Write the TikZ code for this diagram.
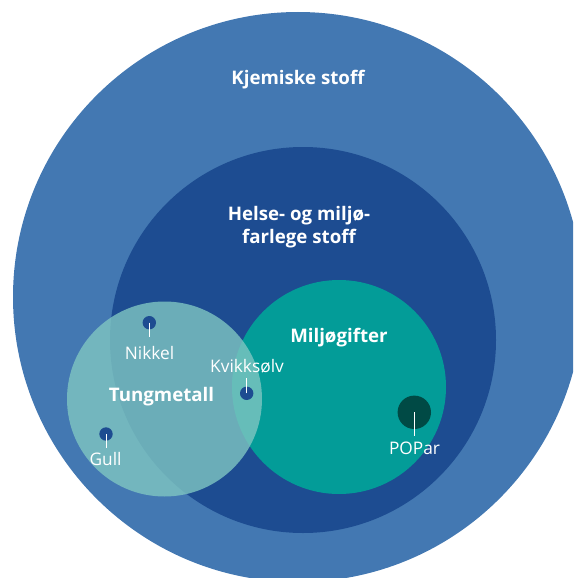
\documentclass[tikz,border=0pt]{standalone}
\usepackage{fontspec}
\setmainfont{Open Sans}
\definecolor{outerblue}{RGB}{67,120,178}
\definecolor{darkblue}{RGB}{29,76,145}
\definecolor{tealc}{RGB}{3,156,152}
\definecolor{lightteal}{RGB}{127,198,194}
\definecolor{popc}{RGB}{0,74,69}
\begin{document}
\begin{tikzpicture}[x=1pt,y=-1pt,
  disc/.style={circle,inner sep=0pt,draw=none},
  bigtitle/.style={text=white,font=\fontsize{18.7}{22.5}\selectfont\bfseries,align=center,inner sep=0pt},
  smalllabel/.style={text=white,font=\fontsize{17.3}{20}\selectfont,inner sep=0pt},
  dot/.style={disc,fill=darkblue,minimum size=13.4pt},
  leader/.style={draw=white,line width=1pt}]
\useasboundingbox (0,0) rectangle (573,578);
\clip (0,0) rectangle (573,578);
\node[disc,fill=outerblue,minimum size=570pt] (kjem) at (298,297) {};
\node[disc,fill=darkblue,minimum size=386pt] (helse) at (303,340) {};
\node[disc,fill=tealc,minimum size=214pt] (miljo) at (339,387) {};
\node[disc,fill=lightteal,fill opacity=0.8,minimum size=195pt] (tung) at (164.5,399) {};
% titles
\node[bigtitle] (tkjem) at (298,80) {Kjemiske stoff};
\node[bigtitle] (thelse) at (299,227) {Helse- og miljø-\\farlege stoff};
\node[bigtitle] (tmiljo) at (339,338) {Miljøgifter};
\node[bigtitle] (ttung) at (161.5,397) {Tungmetall};
% dots
\node[dot] (dnikkel) at (149.3,322.7) {};
\node[dot] (dgull) at (106,434) {};
\node[dot] (dkvikk) at (246.7,393.3) {};
\node[disc,fill=popc,minimum size=33.4pt] (dpop) at (414.3,412.3) {};
% labels
\node[smalllabel] (lnikkel) at (149.5,353) {Nikkel};
\node[smalllabel] (lgull) at (105.6,459) {Gull};
\node[smalllabel] (lkvikk) at (247,366) {Kvikksølv};
\node[smalllabel] (lpop) at (414.5,448) {POPar};
% leaders
\coordinate (enikkel) at (149.3,337);
\coordinate (egull) at (106,448);
\coordinate (ekvikk) at (246.7,378);
\coordinate (epop) at (414.3,436);
\draw[leader] (dnikkel.center) -- (enikkel);
\draw[leader] (dgull.center) -- (egull);
\draw[leader] (dkvikk.center) -- (ekvikk);
\draw[leader] (dpop.center) -- (epop);
\end{tikzpicture}
\end{document}
